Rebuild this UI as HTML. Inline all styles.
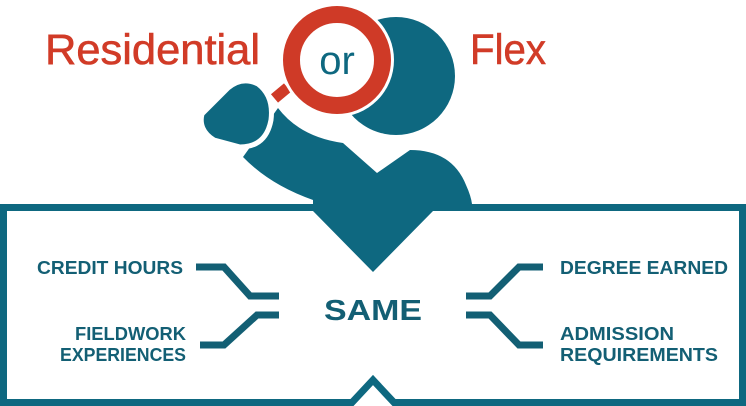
<!DOCTYPE html>
<html><head><meta charset="utf-8"><style>
html,body{margin:0;padding:0;background:#fff;}
svg{display:block;}
</style></head><body>
<svg width="746" height="406" viewBox="0 0 746 406" xmlns="http://www.w3.org/2000/svg">
<defs><style>
.t{font-family:"Liberation Sans",sans-serif;font-weight:bold;fill:#135f74;}
</style></defs>
<!-- box -->
<path d="M352,402.5 H3.5 V207.5 H742.5 V402.5 H394 L373,380 Z" fill="none" stroke="#0e6880" stroke-width="7" stroke-linejoin="miter"/>
<!-- arm/body -->
<path d="M278,108 Q300,137 343,143 L377,173 L410,150 Q452,150 466,185 Q471,196 472,204 L433,204 L433,211 L373,272 L313,211 L313,200 Q270,185 243,157 Z" fill="#0e6880"/>
<!-- hand -->
<path d="M202,114 L228,88 Q242,76 258,84 Q274,96 271,120 Q266,147 240,147 L214,140 Q198,130 202,114 Z" fill="#0e6880" stroke="#fff" stroke-width="5"/>
<!-- head -->
<circle cx="396" cy="76" r="59" fill="#0e6880"/>
<!-- magnifier -->
<g transform="rotate(-40 281 93)"><rect x="271" y="86" width="20" height="14" fill="#cf3a27" stroke="#fff" stroke-width="3"/></g>
<circle cx="337" cy="60" r="57" fill="#fff"/>
<circle cx="337" cy="60" r="45.5" fill="#fff" stroke="#cf3a27" stroke-width="17"/>
<text x="337" y="74" text-anchor="middle" font-family="Liberation Sans, sans-serif" font-size="40" fill="#0e6880">or</text>
<!-- title -->
<text x="45" y="64" font-family="Liberation Sans, sans-serif" font-size="43" fill="#d13b27" stroke="#d13b27" stroke-width="0.6" textLength="215" lengthAdjust="spacingAndGlyphs">Residential</text>
<text x="470" y="64" font-family="Liberation Sans, sans-serif" font-size="43" fill="#d13b27" stroke="#d13b27" stroke-width="0.6" textLength="76" lengthAdjust="spacingAndGlyphs">Flex</text>
<!-- connectors -->
<g fill="none" stroke="#135f74" stroke-width="7" stroke-linejoin="miter">
<path d="M196,267 H224 L250,296 H279"/>
<path d="M279,315 H257 L224,345 H200"/>
<path d="M543,267 H519 L490,296 H466"/>
<path d="M466,315 H490 L519,345 H543"/>
</g>
<!-- labels -->
<text class="t" x="183" y="274" font-size="18" text-anchor="end" textLength="146" lengthAdjust="spacingAndGlyphs">CREDIT HOURS</text>
<text class="t" x="186" y="340" font-size="18" text-anchor="end" textLength="111" lengthAdjust="spacingAndGlyphs">FIELDWORK</text>
<text class="t" x="186" y="361" font-size="18" text-anchor="end" textLength="126" lengthAdjust="spacingAndGlyphs">EXPERIENCES</text>
<text class="t" x="560" y="274" font-size="18" textLength="168" lengthAdjust="spacingAndGlyphs">DEGREE EARNED</text>
<text class="t" x="560" y="340" font-size="18" textLength="114" lengthAdjust="spacingAndGlyphs">ADMISSION</text>
<text class="t" x="560" y="361" font-size="18" textLength="158" lengthAdjust="spacingAndGlyphs">REQUIREMENTS</text>
<text class="t" x="373" y="320" font-size="29" text-anchor="middle" textLength="98" lengthAdjust="spacingAndGlyphs">SAME</text>
</svg>
</body></html>
